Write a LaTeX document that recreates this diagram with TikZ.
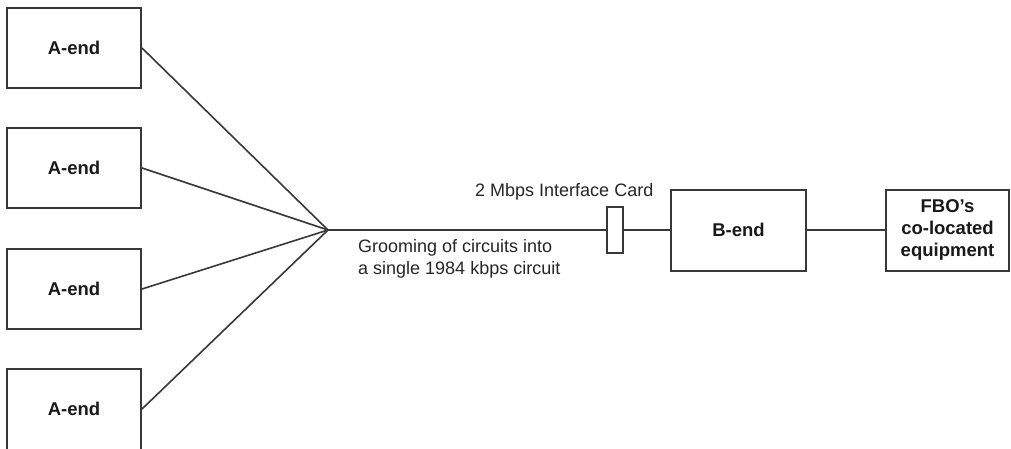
\documentclass[tikz,border=0pt]{standalone}
\usepackage{fontspec}
\setmainfont{Liberation Sans}
\begin{document}
\begin{tikzpicture}[x=1pt,y=-1pt,
  box/.style={draw=black!78,line width=2pt,fill=white,inner sep=0pt,align=center,
    font=\fontsize{18.5}{22}\selectfont\bfseries,text=black!90},
  wire/.style={draw=black!78,line width=1.6pt},
  lbl/.style={inner sep=0pt,font=\fontsize{18}{22}\selectfont,text=black!85}]
\useasboundingbox (0,0) rectangle (1011,448);
\clip (0,0) rectangle (1011,448);
\fill[white] (0,0) rectangle (1011,448);
\node[box,minimum width=134pt,minimum height=80pt] (a1) at (74,48) {A-end};
\node[box,minimum width=134pt,minimum height=80pt] (a2) at (74,168) {A-end};
\node[box,minimum width=134pt,minimum height=80pt] (a3) at (74,289) {A-end};
\node[box,minimum width=134pt,minimum height=84pt,text depth=0pt] (a4) at (74,411) {};
\node[inner sep=0pt,font=\fontsize{18.5}{22}\selectfont\bfseries,text=black!90] (a4t) at (74,409) {A-end};
\coordinate (g) at (328,230);
\node[draw=black!78,line width=1.6pt,minimum width=16pt,minimum height=46pt,inner sep=0pt] (card) at (615,230) {};
\node[box,minimum width=135pt,minimum height=81pt] (b) at (738.5,230) {B-end};
\node[box,minimum width=123pt,minimum height=81pt] (f) at (947.5,230) {FBO's\\co-located\\equipment};
\draw[wire] (a1.east) -- (g);
\draw[wire] (a2.east) -- (g);
\draw[wire] (a3.east) -- (g);
\draw[wire] (a4.east |- a4t.center) -- (g);
\draw[wire] (g) -- (card.west);
\draw[wire] (card.east) -- (b.west);
\draw[wire] (b.east) -- (f.west);
\node[lbl,anchor=base west] (cardlbl) at (475,196) {2 Mbps Interface Card};
\node[lbl,anchor=base west] (g1) at (358,252) {Grooming of circuits into};
\node[lbl,anchor=base west] (g2) at (358,274) {a single 1984 kbps circuit};
\end{tikzpicture}
\end{document}
